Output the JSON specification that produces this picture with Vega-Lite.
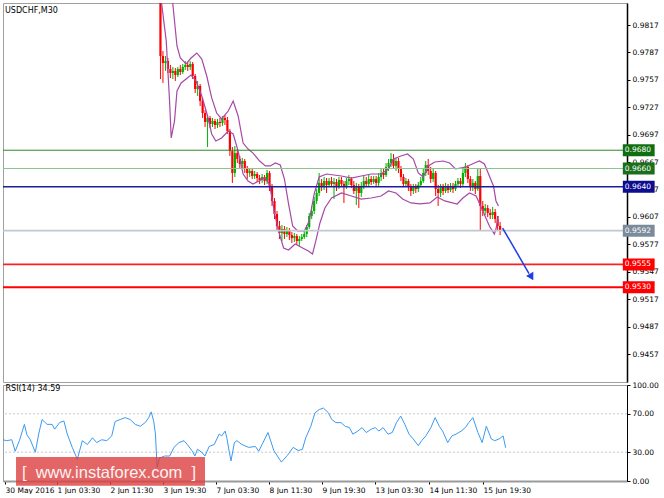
{
"$schema":"https://vega.github.io/schema/vega-lite/v6.json",
"padding":{"left":1,"top":2,"right":0,"bottom":0},
"background":"white",
"bounds":"flush",
"spacing":3,
"config":{"view":{"stroke":"#a0a0a0"},"font":"DejaVu Sans","axis":{"labelFont":"DejaVu Sans","labelFontSize":7.5,"labelColor":"#000","domainColor":"#000","tickColor":"#000","tickSize":3,"grid":false}},
"datasets":{
"candles":[
{"t":180,"o":0.9870,"h":0.9875,"l":0.9852,"c":0.9854},
{"t":183,"o":0.98543,"h":0.98597,"l":0.97579,"c":0.97831},
{"t":186,"o":0.97831,"h":0.97886,"l":0.97536,"c":0.97755},
{"t":189,"o":0.97755,"h":0.97831,"l":0.97667,"c":0.97776},
{"t":192,"o":0.97776,"h":0.97809,"l":0.97645,"c":0.97689},
{"t":195,"o":0.97689,"h":0.97733,"l":0.97590,"c":0.97645},
{"t":198,"o":0.97645,"h":0.97711,"l":0.97579,"c":0.97667},
{"t":201,"o":0.97667,"h":0.97700,"l":0.97558,"c":0.97623},
{"t":204,"o":0.97623,"h":0.97711,"l":0.97601,"c":0.97689},
{"t":207,"o":0.97689,"h":0.97733,"l":0.97623,"c":0.97656},
{"t":210,"o":0.97656,"h":0.97744,"l":0.97634,"c":0.97711},
{"t":213,"o":0.97711,"h":0.97776,"l":0.97678,"c":0.97733},
{"t":216,"o":0.97733,"h":0.97765,"l":0.97667,"c":0.97711},
{"t":219,"o":0.97711,"h":0.97776,"l":0.97678,"c":0.97744},
{"t":222,"o":0.97744,"h":0.97765,"l":0.97579,"c":0.97612},
{"t":225,"o":0.97612,"h":0.97634,"l":0.97426,"c":0.97470},
{"t":228,"o":0.97470,"h":0.97558,"l":0.97394,"c":0.97503},
{"t":231,"o":0.97503,"h":0.97525,"l":0.97284,"c":0.97339},
{"t":234,"o":0.97339,"h":0.97372,"l":0.97153,"c":0.97207},
{"t":237,"o":0.97207,"h":0.97240,"l":0.97054,"c":0.97109},
{"t":240,"o":0.97109,"h":0.97186,"l":0.96835,"c":0.97153},
{"t":243,"o":0.97153,"h":0.97175,"l":0.97043,"c":0.97087},
{"t":246,"o":0.97087,"h":0.97153,"l":0.97054,"c":0.97120},
{"t":249,"o":0.97120,"h":0.97142,"l":0.97032,"c":0.97076},
{"t":252,"o":0.97076,"h":0.97142,"l":0.97043,"c":0.97109},
{"t":255,"o":0.97109,"h":0.97153,"l":0.97054,"c":0.97098},
{"t":258,"o":0.97098,"h":0.97175,"l":0.97065,"c":0.97153},
{"t":261,"o":0.97153,"h":0.97186,"l":0.97076,"c":0.97131},
{"t":264,"o":0.97131,"h":0.97164,"l":0.96978,"c":0.97010},
{"t":267,"o":0.97010,"h":0.97032,"l":0.96737,"c":0.96790},
{"t":270,"o":0.96790,"h":0.96835,"l":0.96442,"c":0.96551},
{"t":273,"o":0.96551,"h":0.96846,"l":0.96507,"c":0.96769},
{"t":276,"o":0.96769,"h":0.96813,"l":0.96660,"c":0.96704},
{"t":279,"o":0.96704,"h":0.96737,"l":0.96595,"c":0.96649},
{"t":282,"o":0.96649,"h":0.96715,"l":0.96606,"c":0.96682},
{"t":285,"o":0.96682,"h":0.96704,"l":0.96551,"c":0.96595},
{"t":288,"o":0.96595,"h":0.96628,"l":0.96485,"c":0.96551},
{"t":291,"o":0.96551,"h":0.96606,"l":0.96507,"c":0.96573},
{"t":294,"o":0.96573,"h":0.96595,"l":0.96485,"c":0.96518},
{"t":297,"o":0.96518,"h":0.96573,"l":0.96485,"c":0.96540},
{"t":300,"o":0.96540,"h":0.96562,"l":0.96452,"c":0.96496},
{"t":303,"o":0.96496,"h":0.96529,"l":0.96431,"c":0.96474},
{"t":306,"o":0.96474,"h":0.96540,"l":0.96442,"c":0.96507},
{"t":309,"o":0.96507,"h":0.96529,"l":0.96420,"c":0.96463},
{"t":312,"o":0.96463,"h":0.96584,"l":0.96431,"c":0.96551},
{"t":315,"o":0.96551,"h":0.96573,"l":0.96354,"c":0.96409},
{"t":318,"o":0.96409,"h":0.96431,"l":0.96190,"c":0.96245},
{"t":321,"o":0.96245,"h":0.96277,"l":0.96047,"c":0.96102},
{"t":324,"o":0.96102,"h":0.96135,"l":0.95916,"c":0.95971},
{"t":327,"o":0.95971,"h":0.96026,"l":0.95829,"c":0.95894},
{"t":330,"o":0.95894,"h":0.95982,"l":0.95807,"c":0.95938},
{"t":333,"o":0.95938,"h":0.95971,"l":0.95829,"c":0.95883},
{"t":336,"o":0.95883,"h":0.95960,"l":0.95850,"c":0.95927},
{"t":339,"o":0.95927,"h":0.95949,"l":0.95818,"c":0.95872},
{"t":342,"o":0.95872,"h":0.95905,"l":0.95785,"c":0.95839},
{"t":345,"o":0.95839,"h":0.95894,"l":0.95796,"c":0.95861},
{"t":348,"o":0.95861,"h":0.95883,"l":0.95763,"c":0.95807},
{"t":351,"o":0.95807,"h":0.95861,"l":0.95752,"c":0.95829},
{"t":354,"o":0.95829,"h":0.95883,"l":0.95807,"c":0.95850},
{"t":357,"o":0.95850,"h":0.95927,"l":0.95829,"c":0.95883},
{"t":360,"o":0.95883,"h":0.95982,"l":0.95850,"c":0.95960},
{"t":363,"o":0.95960,"h":0.96113,"l":0.95938,"c":0.96080},
{"t":366,"o":0.96080,"h":0.96190,"l":0.96047,"c":0.96135},
{"t":369,"o":0.96135,"h":0.96288,"l":0.96102,"c":0.96245},
{"t":372,"o":0.96245,"h":0.96376,"l":0.96212,"c":0.96332},
{"t":375,"o":0.96332,"h":0.96551,"l":0.96299,"c":0.96442},
{"t":378,"o":0.96442,"h":0.96485,"l":0.96354,"c":0.96398},
{"t":381,"o":0.96398,"h":0.96507,"l":0.96365,"c":0.96463},
{"t":384,"o":0.96463,"h":0.96496,"l":0.96332,"c":0.96420},
{"t":387,"o":0.96420,"h":0.96496,"l":0.96398,"c":0.96463},
{"t":390,"o":0.96463,"h":0.96507,"l":0.96398,"c":0.96431},
{"t":393,"o":0.96431,"h":0.96496,"l":0.96266,"c":0.96452},
{"t":396,"o":0.96452,"h":0.96485,"l":0.96354,"c":0.96409},
{"t":399,"o":0.96409,"h":0.96507,"l":0.96376,"c":0.96474},
{"t":402,"o":0.96474,"h":0.96507,"l":0.96398,"c":0.96431},
{"t":405,"o":0.96431,"h":0.96463,"l":0.96223,"c":0.96409},
{"t":408,"o":0.96409,"h":0.96496,"l":0.96376,"c":0.96463},
{"t":411,"o":0.96463,"h":0.96529,"l":0.96420,"c":0.96485},
{"t":414,"o":0.96485,"h":0.96507,"l":0.96387,"c":0.96420},
{"t":417,"o":0.96420,"h":0.96463,"l":0.96321,"c":0.96354},
{"t":420,"o":0.96354,"h":0.96442,"l":0.96201,"c":0.96398},
{"t":423,"o":0.96398,"h":0.96431,"l":0.96168,"c":0.96332},
{"t":426,"o":0.96332,"h":0.96452,"l":0.96288,"c":0.96409},
{"t":429,"o":0.96409,"h":0.96518,"l":0.96376,"c":0.96463},
{"t":432,"o":0.96463,"h":0.96507,"l":0.96398,"c":0.96431},
{"t":435,"o":0.96431,"h":0.96529,"l":0.96398,"c":0.96485},
{"t":438,"o":0.96485,"h":0.96518,"l":0.96420,"c":0.96452},
{"t":441,"o":0.96452,"h":0.96518,"l":0.96431,"c":0.96485},
{"t":444,"o":0.96485,"h":0.96518,"l":0.96409,"c":0.96442},
{"t":447,"o":0.96442,"h":0.96551,"l":0.96409,"c":0.96507},
{"t":450,"o":0.96507,"h":0.96595,"l":0.96463,"c":0.96551},
{"t":453,"o":0.96551,"h":0.96595,"l":0.96485,"c":0.96529},
{"t":456,"o":0.96529,"h":0.96660,"l":0.96507,"c":0.96617},
{"t":459,"o":0.96617,"h":0.96704,"l":0.96573,"c":0.96660},
{"t":462,"o":0.96660,"h":0.96769,"l":0.96617,"c":0.96704},
{"t":465,"o":0.96704,"h":0.96758,"l":0.96595,"c":0.96628},
{"t":468,"o":0.96628,"h":0.96715,"l":0.96573,"c":0.96682},
{"t":471,"o":0.96682,"h":0.96715,"l":0.96551,"c":0.96595},
{"t":474,"o":0.96595,"h":0.96628,"l":0.96463,"c":0.96507},
{"t":477,"o":0.96507,"h":0.96540,"l":0.96398,"c":0.96431},
{"t":480,"o":0.96431,"h":0.96496,"l":0.96398,"c":0.96463},
{"t":483,"o":0.96463,"h":0.96485,"l":0.96354,"c":0.96398},
{"t":486,"o":0.96398,"h":0.96431,"l":0.96299,"c":0.96354},
{"t":489,"o":0.96354,"h":0.96431,"l":0.96321,"c":0.96398},
{"t":492,"o":0.96398,"h":0.96431,"l":0.96332,"c":0.96376},
{"t":495,"o":0.96376,"h":0.96452,"l":0.96343,"c":0.96420},
{"t":498,"o":0.96420,"h":0.96507,"l":0.96398,"c":0.96463},
{"t":501,"o":0.96463,"h":0.96595,"l":0.96442,"c":0.96551},
{"t":504,"o":0.96551,"h":0.96682,"l":0.96518,"c":0.96638},
{"t":507,"o":0.96638,"h":0.96704,"l":0.96529,"c":0.96573},
{"t":510,"o":0.96573,"h":0.96617,"l":0.96442,"c":0.96485},
{"t":513,"o":0.96485,"h":0.96595,"l":0.96452,"c":0.96551},
{"t":516,"o":0.96551,"h":0.96573,"l":0.96299,"c":0.96376},
{"t":519,"o":0.96376,"h":0.96420,"l":0.96190,"c":0.96332},
{"t":522,"o":0.96332,"h":0.96431,"l":0.96288,"c":0.96398},
{"t":525,"o":0.96398,"h":0.96431,"l":0.96310,"c":0.96354},
{"t":528,"o":0.96354,"h":0.96442,"l":0.96332,"c":0.96409},
{"t":531,"o":0.96409,"h":0.96431,"l":0.96332,"c":0.96365},
{"t":534,"o":0.96365,"h":0.96442,"l":0.96343,"c":0.96409},
{"t":537,"o":0.96409,"h":0.96442,"l":0.96332,"c":0.96376},
{"t":540,"o":0.96376,"h":0.96463,"l":0.96354,"c":0.96431},
{"t":543,"o":0.96431,"h":0.96496,"l":0.96398,"c":0.96463},
{"t":546,"o":0.96463,"h":0.96496,"l":0.96387,"c":0.96431},
{"t":549,"o":0.96431,"h":0.96617,"l":0.96409,"c":0.96551},
{"t":552,"o":0.96551,"h":0.96660,"l":0.96507,"c":0.96617},
{"t":555,"o":0.96617,"h":0.96638,"l":0.96442,"c":0.96485},
{"t":558,"o":0.96485,"h":0.96518,"l":0.96354,"c":0.96398},
{"t":561,"o":0.96398,"h":0.96485,"l":0.96354,"c":0.96442},
{"t":564,"o":0.96442,"h":0.96463,"l":0.96321,"c":0.96376},
{"t":567,"o":0.96376,"h":0.96606,"l":0.96354,"c":0.96518},
{"t":570,"o":0.96518,"h":0.96595,"l":0.95916,"c":0.96190},
{"t":573,"o":0.96190,"h":0.96245,"l":0.96080,"c":0.96135},
{"t":576,"o":0.96135,"h":0.96212,"l":0.96091,"c":0.96168},
{"t":579,"o":0.96168,"h":0.96201,"l":0.96069,"c":0.96113},
{"t":582,"o":0.96113,"h":0.96157,"l":0.96047,"c":0.96091},
{"t":585,"o":0.96091,"h":0.96179,"l":0.96047,"c":0.96124},
{"t":588,"o":0.96124,"h":0.96157,"l":0.96004,"c":0.96047},
{"t":591,"o":0.96047,"h":0.96080,"l":0.95916,"c":0.95971},
{"t":594,"o":0.95971,"h":0.96015,"l":0.95872,"c":0.95920}
],
"bands":[
{"b":"up","t":185,"p":0.99090},{"b":"up","t":197,"p":0.98488},{"b":"up","t":200,"p":0.98214},{"b":"up","t":203,"p":0.97941},{"b":"up","t":207,"p":0.97809},{"b":"up","t":214,"p":0.97744},{"b":"up","t":220,"p":0.97809},{"b":"up","t":227,"p":0.97864},{"b":"up","t":233,"p":0.97798},{"b":"up","t":239,"p":0.97612},{"b":"up","t":245,"p":0.97372},{"b":"up","t":251,"p":0.97207},{"b":"up","t":257,"p":0.97142},{"b":"up","t":265,"p":0.97229},{"b":"up","t":271,"p":0.97339},{"b":"up","t":277,"p":0.97175},{"b":"up","t":283,"p":0.96879},{"b":"up","t":289,"p":0.96813},{"b":"up","t":295,"p":0.96769},{"b":"up","t":303,"p":0.96682},{"b":"up","t":310,"p":0.96628},{"b":"up","t":316,"p":0.96628},{"b":"up","t":322,"p":0.96660},{"b":"up","t":328,"p":0.96638},{"b":"up","t":333,"p":0.96485},{"b":"up","t":338,"p":0.96212},{"b":"up","t":343,"p":0.95971},{"b":"up","t":349,"p":0.95916},{"b":"up","t":357,"p":0.95916},{"b":"up","t":363,"p":0.96026},{"b":"up","t":369,"p":0.96321},{"b":"up","t":375,"p":0.96507},{"b":"up","t":384,"p":0.96540},{"b":"up","t":402,"p":0.96518},{"b":"up","t":414,"p":0.96496},{"b":"up","t":426,"p":0.96518},{"b":"up","t":438,"p":0.96540},{"b":"up","t":450,"p":0.96540},{"b":"up","t":459,"p":0.96595},{"b":"up","t":465,"p":0.96704},{"b":"up","t":474,"p":0.96737},{"b":"up","t":482,"p":0.96759},{"b":"up","t":489,"p":0.96704},{"b":"up","t":495,"p":0.96551},{"b":"up","t":501,"p":0.96507},{"b":"up","t":507,"p":0.96628},{"b":"up","t":515,"p":0.96671},{"b":"up","t":525,"p":0.96682},{"b":"up","t":533,"p":0.96660},{"b":"up","t":540,"p":0.96595},{"b":"up","t":547,"p":0.96606},{"b":"up","t":555,"p":0.96628},{"b":"up","t":563,"p":0.96660},{"b":"up","t":569,"p":0.96682},{"b":"up","t":575,"p":0.96649},{"b":"up","t":581,"p":0.96518},{"b":"up","t":586,"p":0.96409},{"b":"up","t":589,"p":0.96245},{"b":"up","t":592,"p":0.96190},
{"b":"lo","t":180,"p":0.98761},{"b":"lo","t":184,"p":0.98433},{"b":"lo","t":190,"p":0.97995},{"b":"lo","t":194,"p":0.97339},{"b":"lo","t":196,"p":0.96934},{"b":"lo","t":200,"p":0.97120},{"b":"lo","t":203,"p":0.97448},{"b":"lo","t":208,"p":0.97536},{"b":"lo","t":214,"p":0.97579},{"b":"lo","t":220,"p":0.97623},{"b":"lo","t":226,"p":0.97558},{"b":"lo","t":233,"p":0.97394},{"b":"lo","t":240,"p":0.97175},{"b":"lo","t":245,"p":0.96978},{"b":"lo","t":250,"p":0.96901},{"b":"lo","t":257,"p":0.96934},{"b":"lo","t":265,"p":0.97010},{"b":"lo","t":271,"p":0.96978},{"b":"lo","t":277,"p":0.96790},{"b":"lo","t":283,"p":0.96540},{"b":"lo","t":289,"p":0.96463},{"b":"lo","t":295,"p":0.96431},{"b":"lo","t":302,"p":0.96463},{"b":"lo","t":309,"p":0.96496},{"b":"lo","t":315,"p":0.96431},{"b":"lo","t":321,"p":0.96113},{"b":"lo","t":327,"p":0.95883},{"b":"lo","t":332,"p":0.95730},{"b":"lo","t":338,"p":0.95708},{"b":"lo","t":346,"p":0.95774},{"b":"lo","t":355,"p":0.95730},{"b":"lo","t":362,"p":0.95697},{"b":"lo","t":367,"p":0.95665},{"b":"lo","t":371,"p":0.95807},{"b":"lo","t":376,"p":0.96004},{"b":"lo","t":382,"p":0.96168},{"b":"lo","t":390,"p":0.96277},{"b":"lo","t":402,"p":0.96332},{"b":"lo","t":414,"p":0.96299},{"b":"lo","t":426,"p":0.96266},{"b":"lo","t":438,"p":0.96277},{"b":"lo","t":450,"p":0.96299},{"b":"lo","t":459,"p":0.96354},{"b":"lo","t":468,"p":0.96332},{"b":"lo","t":476,"p":0.96266},{"b":"lo","t":486,"p":0.96223},{"b":"lo","t":497,"p":0.96212},{"b":"lo","t":509,"p":0.96223},{"b":"lo","t":518,"p":0.96288},{"b":"lo","t":527,"p":0.96245},{"b":"lo","t":542,"p":0.96212},{"b":"lo","t":549,"p":0.96277},{"b":"lo","t":557,"p":0.96332},{"b":"lo","t":565,"p":0.96299},{"b":"lo","t":572,"p":0.96157},{"b":"lo","t":581,"p":0.95971},{"b":"lo","t":587,"p":0.95883},{"b":"lo","t":589,"p":0.95938},{"b":"lo","t":592,"p":0.96080}
],
"levels":[{"k":"r1","p":0.968},{"k":"r2","p":0.966},{"k":"r3","p":0.964},{"k":"cur","p":0.9592},{"k":"s1","p":0.9555},{"k":"s2","p":0.953}],
"arrow":[{"t":597,"p":0.95949},{"t":629,"p":0.9545}],
"arrowhead":[{"t":632,"p":0.95413}],
"rsilevels":[{"v":70},{"v":30}],
"rsi":[
{"t":-2,"v":43},{"t":3,"v":42},{"t":9,"v":43},{"t":13,"v":31},{"t":18,"v":42},{"t":24,"v":59},{"t":27,"v":48},{"t":31,"v":43},{"t":37,"v":30},{"t":41,"v":49},{"t":45,"v":64},{"t":51,"v":59},{"t":57,"v":59},{"t":60,"v":54},{"t":66,"v":61},{"t":71,"v":62.5},{"t":75,"v":49},{"t":81,"v":35},{"t":87,"v":22.6},{"t":93,"v":42},{"t":99,"v":38},{"t":105,"v":45},{"t":110,"v":40},{"t":116,"v":43},{"t":122,"v":42},{"t":128,"v":47},{"t":132,"v":62},{"t":138,"v":64},{"t":144,"v":66},{"t":150,"v":64},{"t":156,"v":59},{"t":162,"v":57},{"t":168,"v":61},{"t":172,"v":66},{"t":175,"v":72},{"t":178,"v":62},{"t":180,"v":49},{"t":182,"v":14},{"t":185,"v":24},{"t":191,"v":26},{"t":197,"v":26},{"t":202,"v":35},{"t":208,"v":40},{"t":214,"v":42},{"t":218,"v":38},{"t":224,"v":31},{"t":227,"v":26},{"t":230,"v":33},{"t":235,"v":30},{"t":239,"v":26},{"t":244,"v":36},{"t":250,"v":38},{"t":256,"v":49},{"t":259,"v":47},{"t":263,"v":52},{"t":265,"v":45},{"t":268,"v":30},{"t":270,"v":21},{"t":274,"v":40},{"t":277,"v":42},{"t":283,"v":38},{"t":291,"v":35},{"t":299,"v":36},{"t":303,"v":31},{"t":307,"v":38},{"t":314,"v":50.5},{"t":321,"v":31.7},{"t":330,"v":19.7},{"t":337,"v":26.6},{"t":344,"v":35},{"t":350,"v":31.7},{"t":355,"v":33},{"t":359,"v":45},{"t":365,"v":57},{"t":370,"v":71},{"t":375,"v":74.4},{"t":380,"v":76},{"t":386,"v":71},{"t":390,"v":64},{"t":395,"v":60.8},{"t":401,"v":60.8},{"t":406,"v":57},{"t":411,"v":55.6},{"t":415,"v":48.8},{"t":421,"v":52},{"t":426,"v":55.6},{"t":431,"v":50.5},{"t":437,"v":54},{"t":442,"v":55.6},{"t":446,"v":52},{"t":451,"v":55.6},{"t":457,"v":48.8},{"t":462,"v":50.5},{"t":467,"v":60.8},{"t":472,"v":67.6},{"t":477,"v":59},{"t":482,"v":48.8},{"t":487,"v":43.7},{"t":493,"v":36.8},{"t":497,"v":42},{"t":502,"v":47},{"t":508,"v":55.6},{"t":513,"v":66},{"t":518,"v":57},{"t":522,"v":52},{"t":528,"v":40},{"t":533,"v":47},{"t":538,"v":48.8},{"t":544,"v":52},{"t":549,"v":55.6},{"t":553,"v":60.8},{"t":558,"v":66},{"t":564,"v":50.5},{"t":569,"v":40},{"t":574,"v":57},{"t":580,"v":43.7},{"t":584,"v":42},{"t":589,"v":43.7},{"t":594,"v":47},{"t":597,"v":34.59}
]
},
"vconcat":[
{
"width":624,"height":379,
"title":{"text":"USDCHF,M30","anchor":"start","offset":-12,"dx":3,"fontSize":8,"fontWeight":"normal","font":"DejaVu Sans","color":"#000"},
"resolve":{"axis":{"x":"independent","y":"independent"}},
"layer":[
{"data":{"name":"candles"},"mark":{"type":"rule","clip":true,"strokeWidth":1},
"encoding":{
"x":{"field":"t","type":"quantitative","scale":{"domain":[-1.5,741.5],"nice":false,"zero":false},"axis":null},
"y":{"field":"l","type":"quantitative","scale":{"domain":[0.94264,0.98411],"nice":false,"zero":false},"axis":{"orient":"right","title":null,"values":[0.9457,0.9487,0.9517,0.9547,0.9577,0.9607,0.9637,0.9667,0.9697,0.9727,0.9757,0.9787,0.9817],"format":".4f","labelPadding":2,"domainWidth":1.5}},
"y2":{"field":"h"},
"color":{"condition":{"test":"datum.c >= datum.o","value":"#00b000"},"value":"#ff0000"}}},
{"data":{"name":"candles"},"mark":{"type":"bar","clip":true,"size":2.2},
"encoding":{
"x":{"field":"t","type":"quantitative","scale":{"domain":[-1.5,741.5],"nice":false,"zero":false},"axis":null},
"y":{"field":"o","type":"quantitative","scale":{"domain":[0.94264,0.98411],"nice":false,"zero":false},"axis":null},
"y2":{"field":"c"},
"color":{"condition":{"test":"datum.c >= datum.o","value":"#00b000"},"value":"#ff0000"}}},
{"data":{"name":"bands"},"mark":{"type":"line","clip":true,"color":"#a648a6","strokeWidth":1.2},
"encoding":{
"x":{"field":"t","type":"quantitative","scale":{"domain":[-1.5,741.5],"nice":false,"zero":false},"axis":null},
"y":{"field":"p","type":"quantitative","scale":{"domain":[0.94264,0.98411],"nice":false,"zero":false},"axis":null},
"detail":{"field":"b","type":"nominal"}}},
{"data":{"name":"levels"},"mark":{"type":"rule"},
"encoding":{
"y":{"field":"p","type":"quantitative","scale":{"domain":[0.94264,0.98411],"nice":false,"zero":false},"axis":null},
"stroke":{"field":"k","type":"nominal","scale":{"domain":["r1","r2","r3","cur","s1","s2"],"range":["#2a882a","#8cc48c","#1c1ca0","#c0c8d0","#ff2020","#ff0000"]},"legend":null},
"strokeWidth":{"field":"k","type":"ordinal","scale":{"domain":["r1","r2","r3","cur","s1","s2"],"range":[1,2,1,2,1,2]},"legend":null}}},
{"data":{"name":"arrow"},"mark":{"type":"line","color":"#1e3ee6","strokeWidth":1.5,"clip":false},
"encoding":{
"x":{"field":"t","type":"quantitative","scale":{"domain":[-1.5,741.5],"nice":false,"zero":false},"axis":null},
"y":{"field":"p","type":"quantitative","scale":{"domain":[0.94264,0.98411],"nice":false,"zero":false},"axis":null}}},
{"data":{"name":"arrowhead"},"mark":{"type":"point","shape":"triangle-down","filled":true,"size":70,"angle":330,"color":"#1e3ee6","opacity":1},
"encoding":{
"x":{"field":"t","type":"quantitative","scale":{"domain":[-1.5,741.5],"nice":false,"zero":false},"axis":null},
"y":{"field":"p","type":"quantitative","scale":{"domain":[0.94264,0.98411],"nice":false,"zero":false},"axis":null}}},
{"data":{"name":"levels"},"mark":{"type":"rule","strokeWidth":12,"clip":false},
"encoding":{
"x":{"datum":742.5,"type":"quantitative","scale":{"domain":[-1.5,741.5],"nice":false,"zero":false},"axis":null},
"x2":{"datum":781},
"y":{"field":"p","type":"quantitative","scale":{"domain":[0.94264,0.98411],"nice":false,"zero":false},"axis":null},
"color":{"field":"k","type":"nominal","scale":{"domain":["r1","r2","r3","cur","s1","s2"],"range":["#0f6e0f","#1a6f1a","#0d0d8f","#7b8b9b","#ff0000","#ff0000"]},"legend":null}}},
{"data":{"name":"levels"},"mark":{"type":"text","align":"left","baseline":"middle","dx":2,"fontSize":7.5,"font":"DejaVu Sans","color":"#ffffff","clip":false},
"encoding":{
"x":{"datum":742.5,"type":"quantitative","scale":{"domain":[-1.5,741.5],"nice":false,"zero":false},"axis":null},
"y":{"field":"p","type":"quantitative","scale":{"domain":[0.94264,0.98411],"nice":false,"zero":false},"axis":null},
"text":{"field":"p","type":"quantitative","format":".4f"}}}
]
},
{
"width":624,"height":96,
"title":{"text":"RSI(14) 34.59","anchor":"start","offset":-12,"dx":3,"fontSize":8,"fontWeight":"normal","font":"DejaVu Sans","color":"#000"},
"resolve":{"axis":{"x":"independent","y":"independent"}},
"layer":[
{"data":{"name":"rsilevels"},"mark":{"type":"rule","color":"#c8c8c8","strokeDash":[2,2]},
"encoding":{
"y":{"field":"v","type":"quantitative","scale":{"domain":[0,100],"nice":false,"zero":false},"axis":{"orient":"right","title":null,"values":[0,30,70,100],"format":".2f","labelPadding":2}}}},
{"data":{"name":"rsi"},"mark":{"type":"line","color":"#3a9af2","strokeWidth":1,"clip":true},
"encoding":{
"x":{"field":"t","type":"quantitative","scale":{"domain":[-1.5,741.5],"nice":false,"zero":false},"axis":{"orient":"bottom","title":null,"values":[0.9,62.8,125.9,189,252.1,315.2,378.4,441.5,505.8,570],"labelExpr":"['30 May 2016','1 Jun 03:30','2 Jun 11:30','3 Jun 19:30','7 Jun 03:30','8 Jun 11:30','9 Jun 19:30','13 Jun 03:30','14 Jun 11:30','15 Jun 19:30'][round(datum.value/63)]","labelAlign":"left","labelPadding":2,"tickSize":3,"domainColor":"#9a9a9a","domainWidth":2,"labelOverlap":false,"labelBound":false,"labelFlush":false}},
"y":{"field":"v","type":"quantitative","scale":{"domain":[0,100],"nice":false,"zero":false},"axis":null}}},
{"data":{"values":[{}]},"mark":{"type":"rect","color":"#dd3f3f","opacity":0.8,"clip":false},
"encoding":{
"x":{"datum":14,"type":"quantitative","scale":{"domain":[-1.5,741.5],"nice":false,"zero":false},"axis":null},
"x2":{"datum":239},
"y":{"datum":25,"type":"quantitative","scale":{"domain":[0,100],"nice":false,"zero":false},"axis":null},
"y2":{"datum":-5}}},
{"data":{"values":[{}]},"mark":{"type":"text","text":"[\u00a0\u00a0www.instaforex.com\u00a0\u00a0]","font":"Liberation Sans","fontSize":16.5,"color":"#ffffff","opacity":0.92,"align":"center","baseline":"middle","clip":false},
"encoding":{
"x":{"datum":124.7,"type":"quantitative","scale":{"domain":[-1.5,741.5],"nice":false,"zero":false},"axis":null},
"y":{"datum":8.5,"type":"quantitative","scale":{"domain":[0,100],"nice":false,"zero":false},"axis":null}}}
]
}
]
}
